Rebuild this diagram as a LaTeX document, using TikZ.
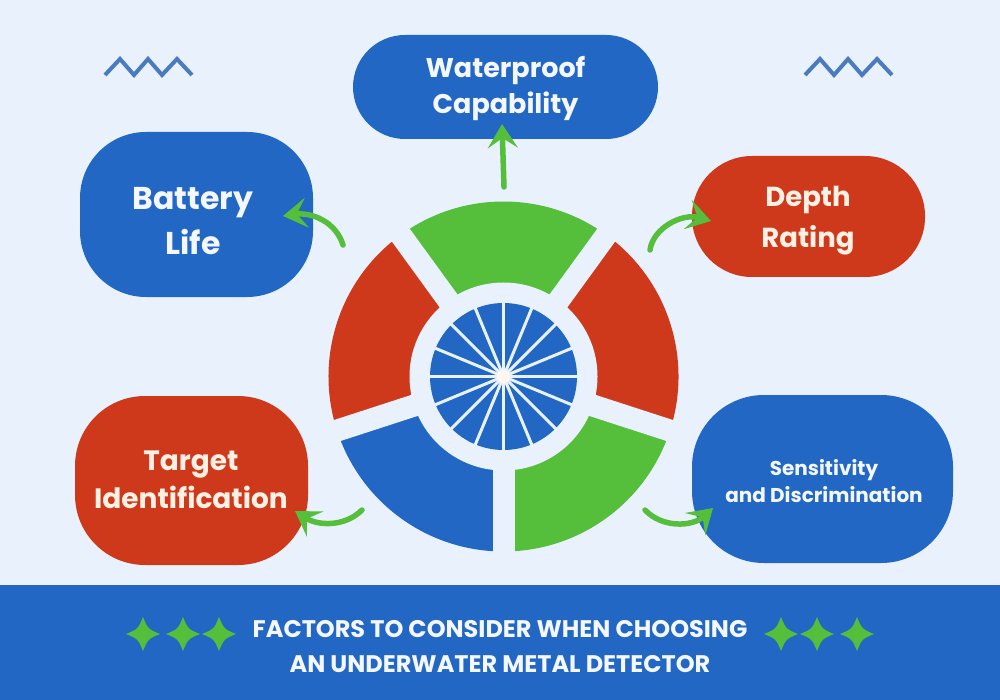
\documentclass[tikz,border=0pt]{standalone}
\usepackage{fontspec}
\setmainfont{Poppins}
\usetikzlibrary{arrows.meta}
\definecolor{bg}{HTML}{E9F2FC}
\definecolor{mblue}{HTML}{2167C3}
\definecolor{mred}{HTML}{CE391C}
\definecolor{mgreen}{HTML}{55BE3B}
\definecolor{zigc}{HTML}{4A7BBF}
\definecolor{txtw}{HTML}{F4F7FF}
\definecolor{txtc}{HTML}{FFF0E4}
\definecolor{hubc}{HTML}{FFF6EC}
\begin{document}
\begin{tikzpicture}[x=1pt,y=-1pt,
  panel/.style={inner sep=0pt, outer sep=0pt},
  lbl/.style={anchor=base, align=center, inner sep=0pt},
  garrow/.style={draw=mgreen, line width=5.5pt, line cap=round,
    -{Stealth[length=24pt,width=30pt,inset=10pt]}},
  zigline/.style={draw=zigc, line width=4pt, line join=miter},
  star4/.pic={\fill[mgreen] (0,-17) .. controls (5,-5) .. (17,0) .. controls (5,5) .. (0,17) .. controls (-5,5) .. (-17,0) .. controls (-5,-5) .. cycle;}
]
\useasboundingbox (0,0) rectangle (1000,700);
\fill[bg] (0,0) rectangle (1000,700);

% zigzags
\draw[zigline] (105,75) -- (120,59) -- (134,75) -- (148,59) -- (162,75) -- (177,59) -- (192,75);
\draw[zigline] (805,75) -- (820,59) -- (834,75) -- (848,59) -- (862,75) -- (877,59) -- (892,75);

% wheel
\coordinate (c) at (503.5,376.5);
\fill[mgreen] (c) -- ++(18:175) arc[start angle=18,end angle=90,radius=175] -- cycle;
\fill[mblue]  (c) -- ++(90:175) arc[start angle=90,end angle=162,radius=175] -- cycle;
\fill[mred]   (c) -- ++(162:175) arc[start angle=162,end angle=234,radius=175] -- cycle;
\fill[mgreen] (c) -- ++(234:175) arc[start angle=234,end angle=306,radius=175] -- cycle;
\fill[mred]   (c) -- ++(306:175) arc[start angle=306,end angle=378,radius=175] -- cycle;
\foreach \a in {18,90,162,234,306}
  \draw[bg, line width=22pt] (c) -- ++(\a:182);
\fill[bg] (c) circle[radius=94];
\fill[mblue] (c) circle[radius=73.5];
\foreach \a in {0,22.5,...,337.5}
  \draw[bg, line width=3pt] (c) -- ++(\a:74);
\fill[hubc] (c) circle[radius=6.5];

% boxes
\node[panel, fill=mblue, minimum width=305pt, minimum height=104pt, rounded corners=52pt] (water) at (505.5,87) {};
\node[panel, fill=mblue, minimum width=233pt, minimum height=165pt, rounded corners=66pt] (battery) at (196.5,214.5) {};
\node[panel, fill=mred, minimum width=233pt, minimum height=121pt, rounded corners=60pt] (depth) at (808.5,216.5) {};
\node[panel, fill=mred, minimum width=233pt, minimum height=169pt, rounded corners=70pt] (target) at (191.5,480.5) {};
\node[panel, fill=mblue, minimum width=261pt, minimum height=168pt, rounded corners=72pt] (sens) at (822.5,479) {};

% labels (anchor = baseline of the last line)
\node[lbl, text=txtw, font=\bfseries\fontsize{27}{36}\selectfont] (waterT) at (505.5,114) {Waterproof\\Capability};
\node[lbl, text=txtw, font=\bfseries\fontsize{31.5}{45}\selectfont] (batteryT) at (193,255) {Battery\\Life};
\node[lbl, text=txtc, font=\bfseries\fontsize{27.5}{41}\selectfont] (depthT) at (808,248) {Depth\\Rating};
\node[lbl, text=txtc, font=\bfseries\fontsize{28}{38}\selectfont] (targetT) at (191,508) {Target\\Identification};
\node[lbl, text=txtw, font=\bfseries\fontsize{20}{27}\selectfont] (sensT) at (824,502) {Sensitivity\\and Discrimination};

% arrows
\coordinate (wt) at (504,187); \coordinate (wh) at (502,124);
\coordinate (bt) at (343,245); \coordinate (bh) at (283,216);
\coordinate (dt) at (650,250); \coordinate (dh) at (711,221);
\coordinate (tt) at (362,510); \coordinate (th) at (295,511);
\coordinate (st) at (645,510); \coordinate (sh) at (713,508);
\draw[garrow] (wt) -- (wh);
\draw[garrow] (bt) .. controls (336,222) and (312,212) .. (bh);
\draw[garrow] (dt) .. controls (653,228) and (682,213) .. (dh);
\draw[garrow] (tt) .. controls (345,527) and (318,526) .. (th);
\draw[garrow] (st) .. controls (662,528) and (692,527) .. (sh);

% banner
\fill[mblue] (0,585) rectangle (1000,700);
\node[lbl, text=txtw, font=\bfseries\fontsize{24}{35}\selectfont] (title) at (500,672) {FACTORS TO CONSIDER WHEN CHOOSING\\AN UNDERWATER METAL DETECTOR};
\foreach \x in {143,183,219,781,817,857}
  \pic at (\x,634) {star4};
\end{tikzpicture}
\end{document}
